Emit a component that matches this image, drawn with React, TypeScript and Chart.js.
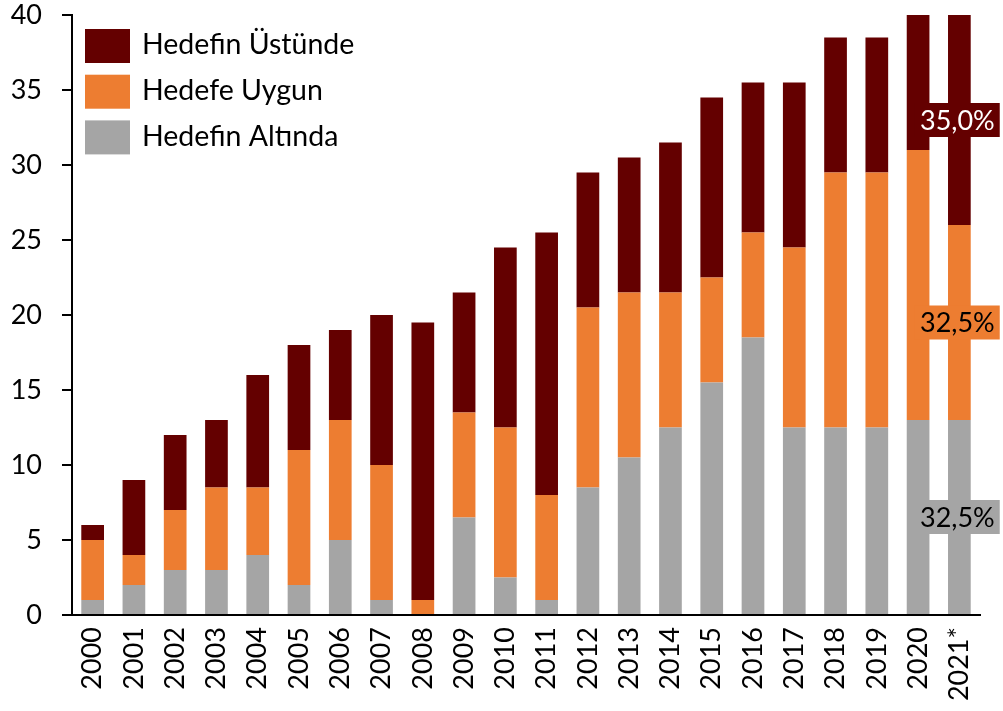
import React, { useEffect, useRef } from "react";
import { Chart, registerables } from "chart.js";

Chart.register(...registerables);

const categories = [
  "2000", "2001", "2002", "2003", "2004", "2005", "2006", "2007", "2008", "2009", "2010",
  "2011", "2012", "2013", "2014", "2015", "2016", "2017", "2018", "2019", "2020", "2021*",
];
const belowTarget = [1, 2, 3, 3, 4, 2, 5, 1, 0, 6.5, 2.5, 1, 8.5, 10.5, 12.5, 15.5, 18.5, 12.5, 12.5, 12.5, 13, 13];
const onTarget = [4, 2, 4, 5.5, 4.5, 9, 8, 9, 1, 7, 10, 7, 12, 11, 9, 7, 7, 12, 17, 17, 18, 13];
const aboveTarget = [1, 5, 5, 4.5, 7.5, 7, 6, 10, 18.5, 8, 12, 17.5, 9, 9, 10, 12, 10, 11, 9, 9, 9, 14];
const seriesNames = ["Hedefin Altında", "Hedefe Uygun", "Hedefin Üstünde"];
const seriesColors = ["#A5A5A5", "#ED7D31", "#640000"];
const labelTextColors = ["#000000", "#000000", "#FFFFFF"];
const yTicks = [0, 5, 10, 15, 20, 25, 30, 35, 40];

const FONT = "Lato";
const FS = 27;
const LEGEND_FS = 28.5;

const legendPlugin = {
  id: "customLegend",
  afterDraw(chart: any) {
    const ctx = chart.ctx;
    ctx.save();
    ctx.font = `${LEGEND_FS}px ${FONT}`;
    ctx.textBaseline = "middle";
    ctx.textAlign = "left";
    const order = [2, 1, 0];
    order.forEach((dsIdx, row) => {
      const ds = chart.data.datasets[dsIdx];
      const y = 29 + row * 45.7;
      ctx.fillStyle = ds.backgroundColor;
      ctx.fillRect(85, y, 45, 34);
      ctx.fillStyle = "#000";
      ctx.fillText(ds.label, 142, y + 16);
    });
    ctx.restore();
  },
};

const lastBarLabels = {
  id: "lastBarLabels",
  afterDatasetsDraw(chart: any) {
    const ctx = chart.ctx;
    const last = categories.length - 1;
    let total = 0;
    chart.data.datasets.forEach((ds: any) => (total += ds.data[last]));
    ctx.save();
    ctx.font = `${FS}px ${FONT}`;
    ctx.textBaseline = "middle";
    ctx.textAlign = "center";
    chart.data.datasets.forEach((ds: any, i: number) => {
      const el = chart.getDatasetMeta(i).data[last];
      if (!el) return;
      const v = ds.data[last];
      const txt = ((v / total) * 100).toFixed(1).replace(".", ",") + "%";
      const cx = el.x - 2;
      const cy = (el.y + el.base) / 2;
      const w = ctx.measureText(txt).width + 10;
      const h = 34;
      ctx.fillStyle = ds.backgroundColor;
      ctx.fillRect(cx - w / 2, cy - h / 2, w, h);
      ctx.fillStyle = labelTextColors[i];
      ctx.fillText(txt, cx, cy + 1);
    });
    ctx.restore();
  },
};

export default function App() {
  const ref = useRef<HTMLCanvasElement | null>(null);

  useEffect(() => {
    document.body.style.margin = "0";
    let chart: any = null;
    let cancelled = false;
    const make = () => {
      if (cancelled || !ref.current) return;
      chart = new Chart(ref.current, {
        type: "bar",
        data: {
          labels: categories,
          datasets: [
            { label: seriesNames[0], data: belowTarget, backgroundColor: seriesColors[0] },
            { label: seriesNames[1], data: onTarget, backgroundColor: seriesColors[1] },
            { label: seriesNames[2], data: aboveTarget, backgroundColor: seriesColors[2] },
          ],
        },
        options: {
          responsive: false,
          animation: false,
          layout: { padding: { left: 0, top: 15, right: 23, bottom: 0 } },
          datasets: {
            bar: { barPercentage: 0.55, categoryPercentage: 1, borderWidth: 0 },
          },
          plugins: {
            legend: { display: false },
            tooltip: { enabled: false },
          },
          scales: {
            x: {
              stacked: true,
              grid: { display: false, drawTicks: false },
              border: { display: true, color: "#000", width: 2 },
              ticks: {
                autoSkip: false,
                minRotation: 90,
                maxRotation: 90,
                padding: 12,
                color: "#000",
                font: { family: FONT, size: FS, lineHeight: 1 },
              },
              afterFit: (s: any) => {
                s.height = 96;
                s.paddingLeft = 0;
                s.paddingRight = 0;
              },
            },
            y: {
              stacked: true,
              min: 0,
              max: 40,
              afterBuildTicks: (s: any) => {
                s.ticks = yTicks.map((v) => ({ value: v }));
              },
              grid: { drawOnChartArea: false, drawTicks: true, tickLength: 10, color: "#000", lineWidth: 2 },
              border: { display: true, color: "#000", width: 2 },
              ticks: {
                padding: 20,
                color: "#000",
                font: { family: FONT, size: FS, lineHeight: 1 },
              },
              afterFit: (s: any) => {
                s.width = 72;
                s.paddingTop = 0;
                s.paddingBottom = 0;
              },
            },
          },
        },
        plugins: [legendPlugin, lastBarLabels],
      } as any);
    };
    const fontsAny: any = (document as any).fonts;
    if (fontsAny && fontsAny.load) {
      fontsAny.load(`${FS}px ${FONT}`).then(make, make);
    } else {
      make();
    }
    return () => {
      cancelled = true;
      if (chart) chart.destroy();
    };
  }, []);

  return (
    <div style={{ width: 1003, height: 711, position: "relative" }}>
      <canvas ref={ref} width={1003} height={711} style={{ display: "block" }} />
    </div>
  );
}
